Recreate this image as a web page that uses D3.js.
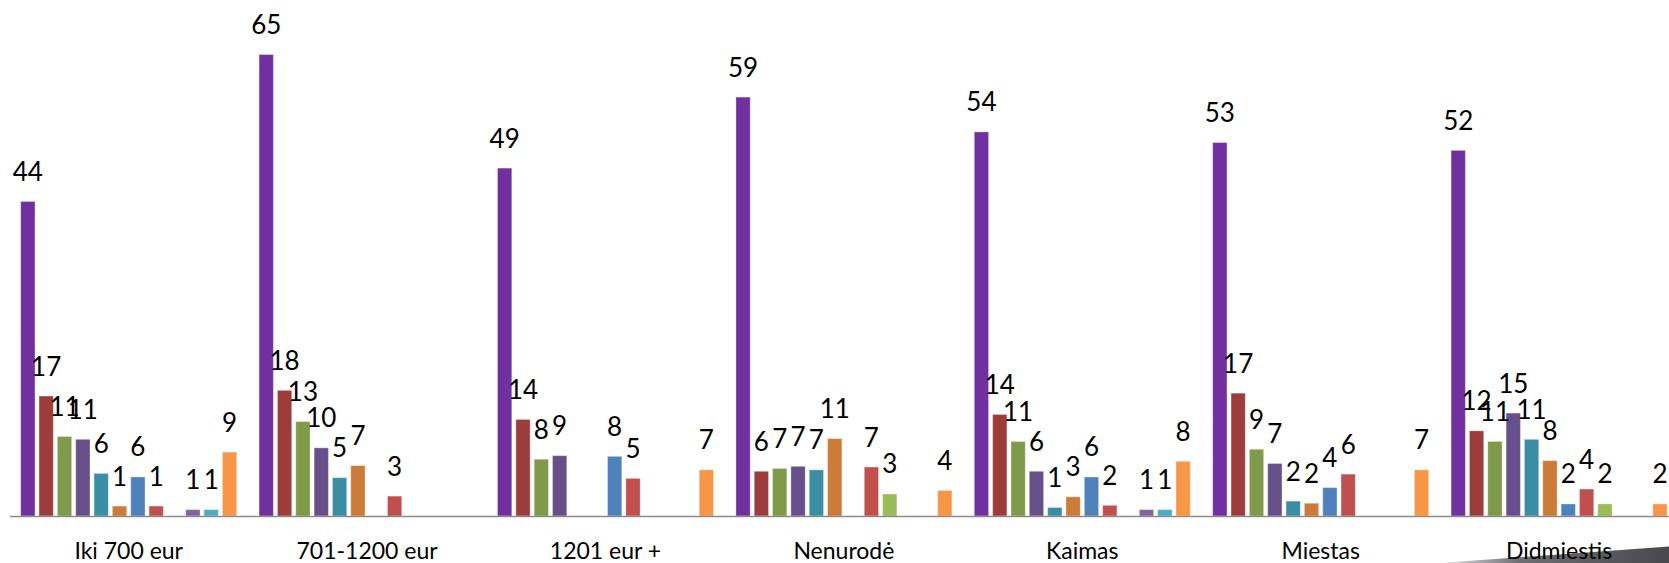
<!DOCTYPE html>
<html>
<head>
<meta charset="utf-8">
<script src="https://cdn.jsdelivr.net/npm/d3@7"></script>
<style>
  html, body { margin: 0; padding: 0; background: #fff; }
  svg { display: block; }
</style>
</head>
<body>
<svg id="chart" width="1669" height="563"></svg>
<script>
// ---- data ----
const categories = ["Iki 700 eur", "701-1200 eur", "1201 eur +", "Nenurodė", "Kaimas", "Miestas", "Didmiestis"];
const seriesKeys = ["s1","s2","s3","s4","s5","s6","s7","s8","s9","s10","s11","s12"];
const s1  = [44.3, 65.0, 49.0, 59.0, 54.1, 52.6, 51.5];
const s2  = [16.9, 17.7, 13.6, 6.3, 14.3, 17.3, 12.0];
const s3  = [11.2, 13.3, 8.0, 6.7, 10.5, 9.4, 10.5];
const s4  = [10.8, 9.6, 8.5, 7.0, 6.3, 7.4, 14.5];
const s5  = [6.0, 5.4, 0, 6.5, 1.2, 2.1, 10.8];
const s6  = [1.4, 7.1, 0, 10.9, 2.7, 1.8, 7.8];
const s7  = [5.5, 0, 8.4, 0, 5.5, 4.0, 1.7];
const s8  = [1.4, 2.8, 5.3, 6.9, 1.5, 5.9, 3.8];
const s9  = [0, 0, 0, 3.1, 0, 0, 1.7];
const s10 = [0.9, 0, 0, 0, 0.9, 0, 0];
const s11 = [0.9, 0, 0, 0, 0.9, 0, 0];
const s12 = [9.0, 0, 6.5, 3.6, 7.7, 6.5, 1.7];
const seriesValues = [s1, s2, s3, s4, s5, s6, s7, s8, s9, s10, s11, s12];
const colors = ["#7030A0", "#9C3D3B", "#7F9A48", "#67508A", "#3B8DA4", "#CC7B38",
                "#4F81BD", "#C0504D", "#9BBB59", "#8064A2", "#4BACC6", "#F79646"];

// ---- layout ----
const svg = d3.select("#chart");
const baseY = 516;
const groupW = 238.4;
const x0 = d3.scaleBand().domain(categories).range([9.5, 9.5 + groupW * categories.length]).paddingInner(0).paddingOuter(0);
const x1 = d3.scaleBand().domain(seriesKeys).range([0, groupW]).paddingInner(0.22).paddingOuter(0.61).align(0.5);
const y = d3.scaleLinear().domain([0, 70]).range([baseY, baseY - 7.1 * 70]);
const color = d3.scaleOrdinal().domain(seriesKeys).range(colors);

const rows = [];
categories.forEach((c, ci) => {
  seriesKeys.forEach((k, si) => {
    const v = seriesValues[si][ci];
    if (v > 0) rows.push({ cat: c, key: k, value: v });
  });
});

// decorative wedge bottom-right
const defs = svg.append("defs");
const grad = defs.append("linearGradient").attr("id", "wedge").attr("x1", "0").attr("x2", "1").attr("y1", "0").attr("y2", "0");
grad.append("stop").attr("offset", "0").attr("stop-color", "#e6e6e6");
grad.append("stop").attr("offset", "0.35").attr("stop-color", "#6d6d72");
grad.append("stop").attr("offset", "1").attr("stop-color", "#48484d");
svg.append("path")
  .attr("d", "M1440,563 L1669,546.5 L1669,563 Z")
  .attr("fill", "url(#wedge)");

// bars
svg.append("g").selectAll("rect").data(rows).join("rect")
  .attr("x", d => x0(d.cat) + x1(d.key))
  .attr("y", d => y(d.value))
  .attr("width", x1.bandwidth())
  .attr("height", d => baseY - y(d.value))
  .attr("fill", d => color(d.key))
  .attr("stroke", "rgba(255,255,255,0.35)")
  .attr("stroke-width", 1);

// axis line
const axis = svg.append("g").attr("transform", `translate(0,${baseY})`)
  .call(d3.axisBottom(x0).tickSize(0).tickPadding(0));
axis.select(".domain").attr("stroke", "#8c8c8c").attr("stroke-width", 1.5);
axis.selectAll("text").remove();

// category labels
svg.append("g").selectAll("text").data(categories).join("text")
  .attr("x", d => x0(d) + x0.bandwidth() / 2)
  .attr("y", 558.5)
  .attr("text-anchor", "middle")
  .attr("font-family", "Lato, 'Open Sans', sans-serif")
  .attr("font-size", 23)
  .attr("fill", "#000")
  .text(d => d);

// data labels
svg.append("g").selectAll("text").data(rows).join("text")
  .attr("x", d => x0(d.cat) + x1(d.key) + x1.bandwidth() / 2)
  .attr("y", d => y(d.value) - 20.5)
  .attr("text-anchor", "middle")
  .attr("font-family", "Lato, 'Open Sans', sans-serif")
  .attr("font-size", 26)
  .attr("fill", "#000")
  .text(d => Math.round(d.value));
</script>
</body>
</html>
